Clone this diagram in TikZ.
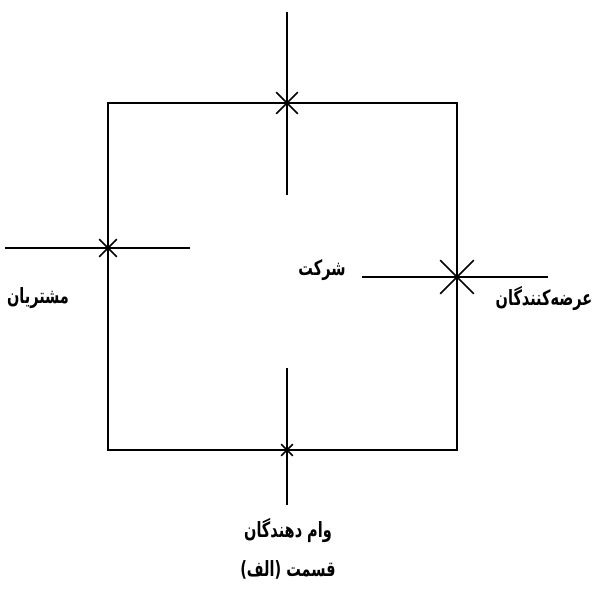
\documentclass[tikz,border=0pt]{standalone}
\usepackage{fontspec}
\usepackage{graphicx}
\newfontfamily\arabicfont[Script=Arabic]{DejaVu Sans}
\TeXXeTstate=1
\usetikzlibrary{shapes.misc}
\newcommand\tall[1]{\scalebox{1}[1.45]{#1}}

\begin{document}
\begin{tikzpicture}[x=1pt, y=-1pt,
    edge/.style={line width=1.7pt},
    xmark/.style={cross out, draw, line width=1.6pt, inner sep=0pt},
    lbl/.style={font=\arabicfont\bfseries\fontsize{14.5}{17}\selectfont, inner sep=1pt}]
  \useasboundingbox (0,0) rectangle (608,590);
  % the firm
  \draw[edge] (108,103) coordinate (nw) rectangle (457,450) coordinate (se);
  % crossing points on the box
  \coordinate (ctop) at (287,103);
  \coordinate (cleft) at (108,248);
  \coordinate (cright) at (457,277);
  \coordinate (cbot) at (287,450);
  % line ends
  \coordinate (top1) at (287,12);   \coordinate (top2) at (287,195);
  \coordinate (left1) at (5,248);   \coordinate (left2) at (190,248);
  \coordinate (right1) at (362,277); \coordinate (right2) at (548,277);
  \coordinate (bot1) at (287,368);  \coordinate (bot2) at (287,505);
  \draw[edge] (top1) -- (ctop) -- (top2);
  \draw[edge] (left1) -- (cleft) -- (left2);
  \draw[edge] (right1) -- (cright) -- (right2);
  \draw[edge] (bot1) -- (cbot) -- (bot2);
  \node[xmark, minimum size=20pt] (xtop) at (ctop) {};
  \node[xmark, minimum size=16pt] (xleft) at (cleft) {};
  \node[xmark, minimum size=32pt] (xright) at (cright) {};
  \node[xmark, minimum size=10pt] (xbot) at (cbot) {};
  % labels
  \node[lbl] (firm) at (322,270) {\tall{\beginR شرکت\endR}};
  \node[lbl] (cust) at (38,298) {\tall{\beginR مشتریان\endR}};
  \node[lbl] (supp) at (544,298) {\tall{\beginR عرضه‌کنندگان\endR}};
  \node[lbl] (lend) at (288,530) {\tall{\beginR وام دهندگان\endR}};
  \node[lbl] (part) at (288,570) {\tall{\beginR قسمت (الف)\endR}};
\end{tikzpicture}
\end{document}
